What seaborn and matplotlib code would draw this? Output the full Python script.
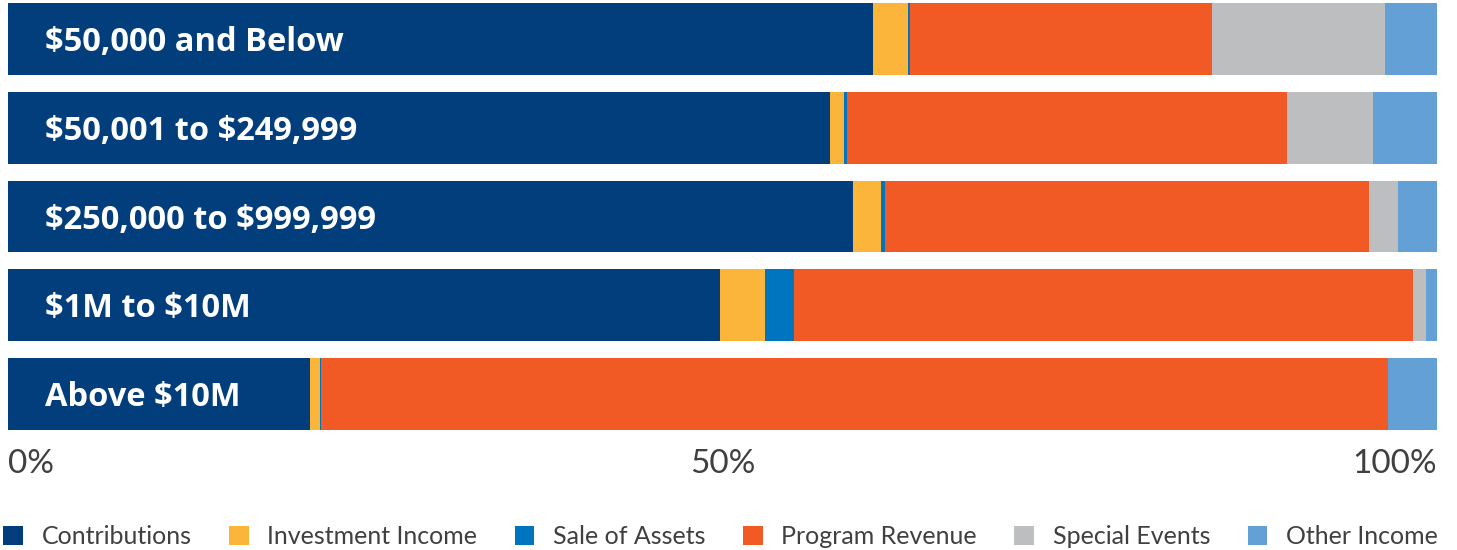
import pandas as pd
import matplotlib
matplotlib.use('Agg')
import matplotlib.pyplot as plt
from matplotlib.patches import Patch
import seaborn as sns

# Revenue mix by organization budget size (% of total revenue)
groups = ['$50,000 and Below', '$50,001 to $249,999', '$250,000 to $999,999',
          '$1M to $10M', 'Above $10M']
sources = ['Contributions', 'Investment Income', 'Sale of Assets',
           'Program Revenue', 'Special Events', 'Other Income']

contributions = [60.5, 57.5, 59.1, 49.8, 21.1]
investment_income = [2.5, 1.0, 2.0, 3.2, 0.7]
sale_of_assets = [0.15, 0.2, 0.25, 2.0, 0.1]
program_revenue = [21.1, 30.8, 33.9, 43.3, 74.7]
special_events = [12.1, 6.0, 2.0, 0.9, 0.0]
other_income = [3.65, 4.5, 2.75, 0.8, 3.4]

colors = ['#033e7c', '#fbb53b', '#0075bf', '#f15a24', '#bdbec0', '#62a0d6']
tick_vals = [0, 50, 100]
tick_labels = ['0%', '50%', '100%']

values = [contributions, investment_income, sale_of_assets,
          program_revenue, special_events, other_income]

# long format + running total so each segment starts where the last ended
rows = []
for src, vals in zip(sources, values):
    for g, v in zip(groups, vals):
        rows.append({'group': g, 'source': src, 'value': v})
df = pd.DataFrame(rows)
df['source'] = pd.Categorical(df['source'], categories=sources, ordered=True)
df = df.sort_values(['group', 'source'])
df['cum'] = df.groupby('group')['value'].cumsum()

sns.set_style('white')
plt.rcParams['font.family'] = ['Lato', 'DejaVu Sans']

fig = plt.figure(figsize=(14.57, 5.5), dpi=100)
ax = fig.add_axes([8 / 1457, 120 / 550, 1429 / 1457, 427 / 550])

# draw widest cumulative bar first, then overlay the shorter ones
for src, col in reversed(list(zip(sources, colors))):
    part = df[df['source'] == src]
    sns.barplot(data=part, x='cum', y='group', order=groups, color=col,
                orient='h', width=0.81, linewidth=0, saturation=1, ax=ax)

# group names written inside the bars ($ kept literal, no mathtext)
for i, g in enumerate(groups):
    ax.text(2.6, i + 0.04, g, color='white', fontsize=23.5, fontweight='bold',
            family=['Open Sans', 'DejaVu Sans'], va='center', ha='left',
            parse_math=False)

ax.set_xlim(0, 100)
ax.set_ylim(4.405, -0.405)
ax.set_xlabel('')
ax.set_ylabel('')
ax.set_yticks([])
ax.set_xticks(tick_vals)
ax.set_xticklabels(tick_labels, fontsize=24, color='#404040')
for lbl, ha in zip(ax.get_xticklabels(), ['left', 'center', 'right']):
    lbl.set_ha(ha)
ax.tick_params(axis='x', length=0, pad=14)
sns.despine(ax=ax, left=True, bottom=True)

handles = [Patch(facecolor=c, edgecolor='none', label=s) for s, c in zip(sources, colors)]
fig.legend(handles=handles, loc='lower left', bbox_to_anchor=(-0.002, -0.008), ncol=6,
           frameon=False, fontsize=18, labelcolor='#404040',
           handlelength=0.78, handleheight=0.78, handletextpad=0.75,
           columnspacing=1.5, borderpad=0.15, borderaxespad=0.1)

fig.savefig('out.png', dpi=100)
